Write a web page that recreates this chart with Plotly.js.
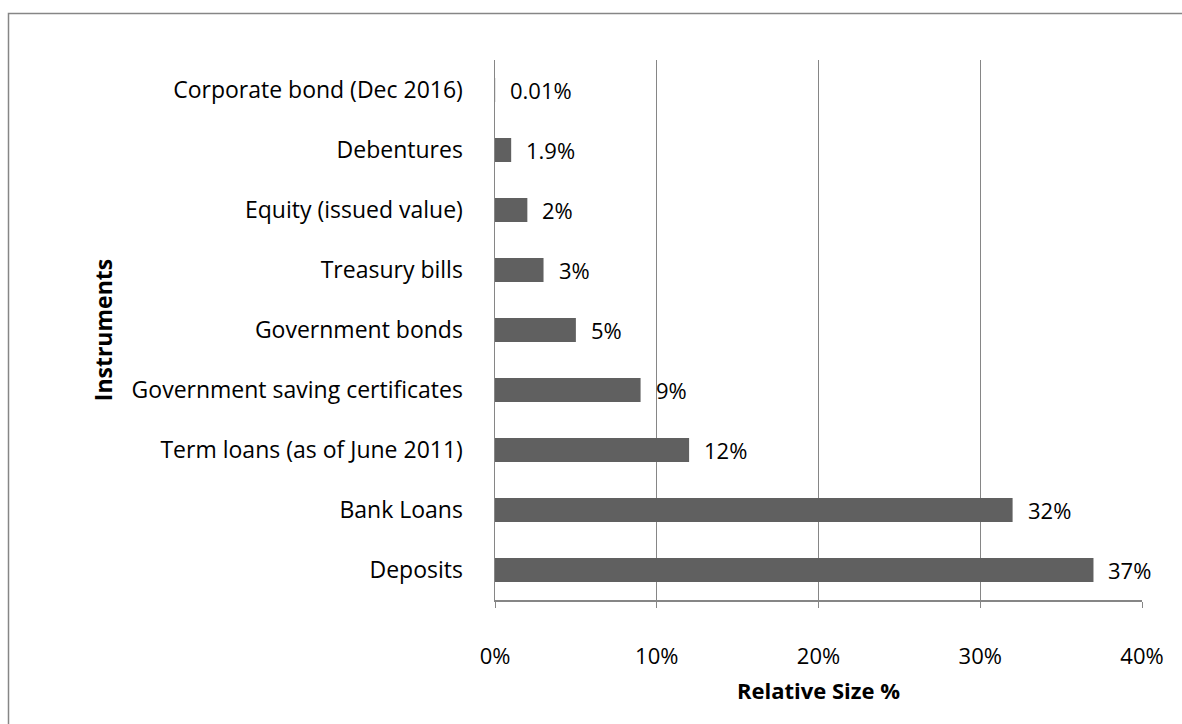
<!DOCTYPE html>
<html>
<head>
<meta charset="utf-8">
<script src="https://cdn.plot.ly/plotly-3.0.1.min.js"></script>
<style>
  html, body { margin: 0; padding: 0; background: #fff; }
  #chart { width: 1182px; height: 724px; }
</style>
</head>
<body>
<div id="chart"></div>
<script>
// Categories listed bottom to top
var categories = [
  "Deposits",
  "Bank Loans",
  "Term loans (as of June 2011)",
  "Government saving certificates",
  "Government bonds",
  "Treasury bills",
  "Equity (issued value)",
  "Debentures",
  "Corporate bond (Dec 2016)"
];
// Relative size, % (bar lengths as drawn)
var values = [37, 32, 12, 9, 5, 3, 2, 1, 0.01];
// Data labels as printed
var labels = ["37%", "32%", "12%", "9%", "5%", "3%", "2%", "1.9%", "0.01%"];
var xTickVals = [0, 10, 20, 30, 40];
var xTickText = ["0%", "10%", "20%", "30%", "40%"];

var FONT = "'Open Sans', Lato, sans-serif";

var trace = {
  type: "bar",
  orientation: "h",
  x: values,
  y: categories,
  width: 0.4,
  marker: { color: "#606060", line: { width: 0 } },
  hoverinfo: "x+y"
};

var annotations = values.map(function (v, i) {
  return {
    x: v, y: categories[i], xref: "x", yref: "y",
    text: labels[i], showarrow: false,
    xanchor: "left", yanchor: "middle", xshift: 13,
    font: { family: FONT, size: 22, color: "#000" }
  };
});

var layout = {
  width: 1182, height: 724,
  margin: { l: 495, r: 40, t: 60, b: 124 },
  paper_bgcolor: "#fff",
  plot_bgcolor: "#fff",
  showlegend: false,
  font: { family: FONT, size: 23, color: "#000" },
  xaxis: {
    range: [0, 40],
    tickvals: xTickVals,
    ticktext: xTickText,
    showgrid: true,
    gridcolor: "#868686",
    gridwidth: 1,
    zeroline: false,
    showline: true,
    linecolor: "#868686",
    linewidth: 1.5,
    ticks: "outside",
    ticklen: 6,
    tickcolor: "#868686",
    ticklabelstandoff: 30,
    tickfont: { family: FONT, size: 22, color: "#000" },
    title: { text: "<b>Relative Size %</b>", font: { family: FONT, size: 22, color: "#000" }, standoff: 14 },
    fixedrange: true
  },
  yaxis: {
    type: "category",
    categoryorder: "array",
    categoryarray: categories,
    range: [-0.5, 8.5],
    showgrid: false,
    zeroline: false,
    showline: true,
    linecolor: "#868686",
    linewidth: 1.5,
    ticks: "",
    ticklabelstandoff: 26,
    tickfont: { family: FONT, size: 23, color: "#000" },
    title: { text: "<b>Instruments</b>", font: { family: FONT, size: 23, color: "#000" }, standoff: 12 },
    fixedrange: true
  },
  annotations: annotations,
  shapes: [{
    type: "rect", xref: "paper", yref: "paper",
    x0: (8.5 - 495) / 647, x1: 1.2,
    y0: -0.4, y1: (600 - 13.5) / 540,
    line: { color: "#868686", width: 1.5 },
    fillcolor: "rgba(0,0,0,0)",
    layer: "below"
  }]
};

Plotly.newPlot("chart", [trace], layout, { displayModeBar: false, staticPlot: true });
</script>
</body>
</html>
